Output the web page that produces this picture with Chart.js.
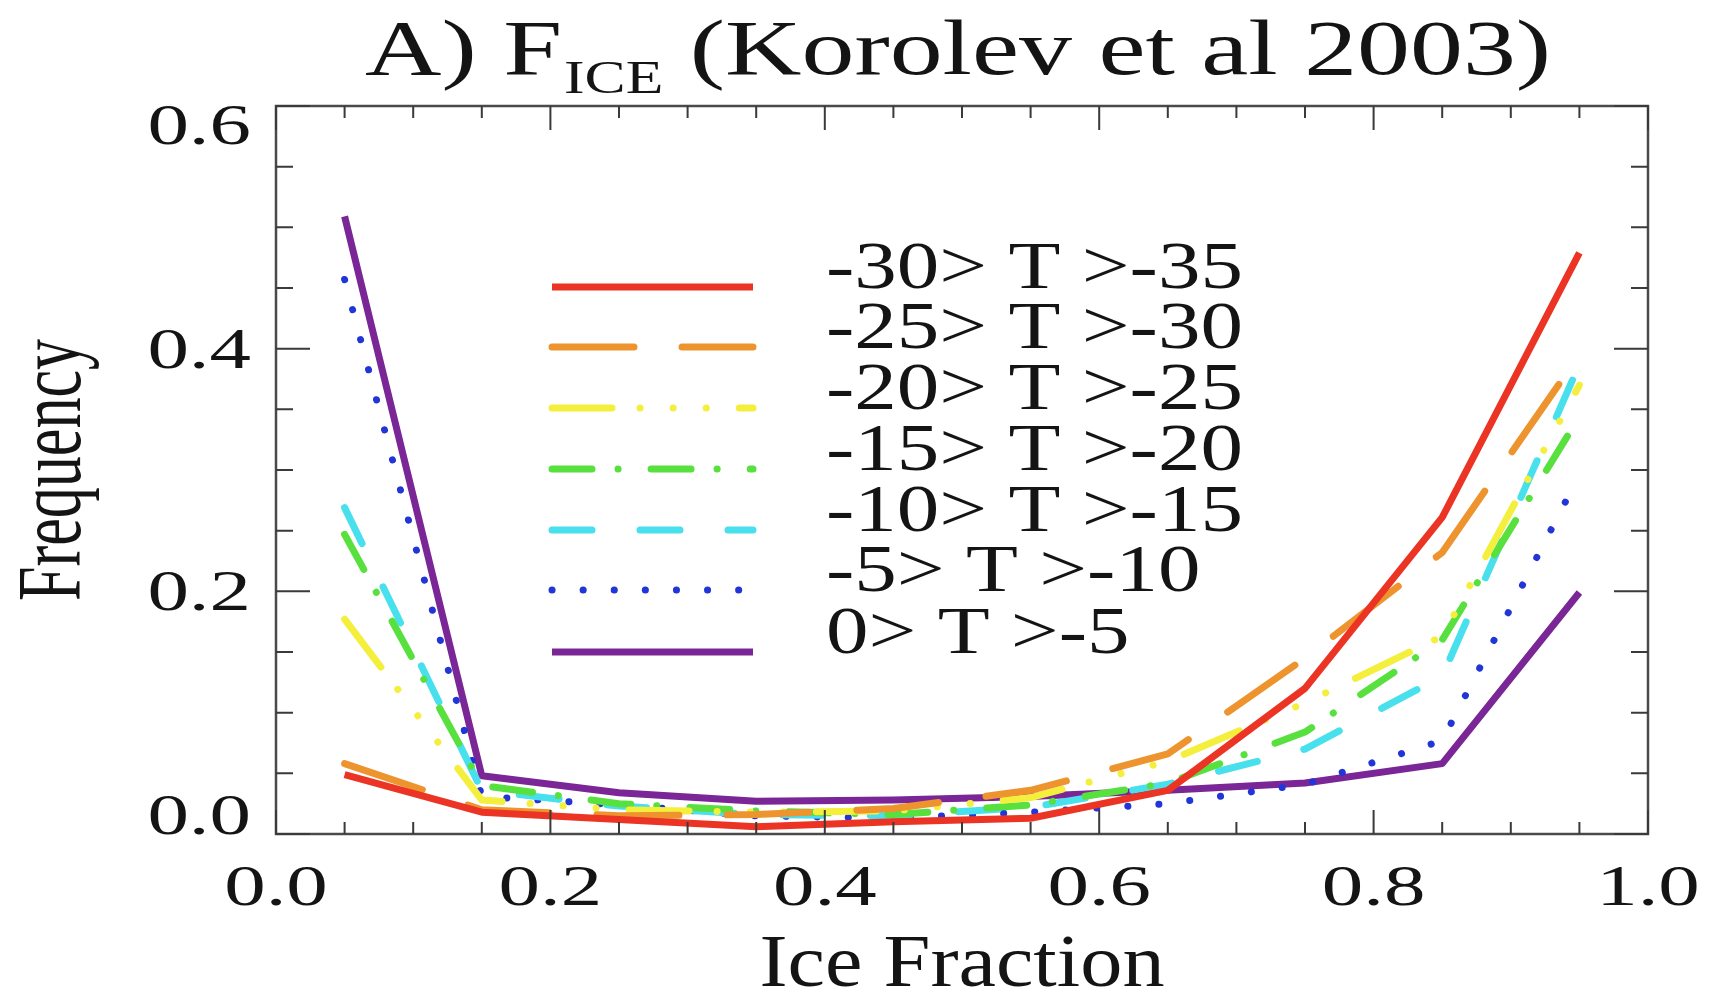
<!DOCTYPE html>
<html>
<head>
<meta charset="utf-8">
<title>F_ICE (Korolev et al 2003)</title>
<script src="https://cdn.jsdelivr.net/npm/chart.js@4/dist/chart.umd.min.js"></script>
<style>
  html, body { margin: 0; padding: 0; background: #ffffff; }
  #wrap { width: 1711px; height: 992px; }
</style>
</head>
<body>
<div id="wrap"><canvas id="fice" width="1711" height="992"></canvas></div>
<script>
// Bin centres of the ice fraction histogram
const iceFraction = [0.05, 0.15, 0.25, 0.35, 0.45, 0.55, 0.65, 0.75, 0.85, 0.95];

// Temperature bands (legend text)
const bandLabels = ['-30> T >-35', '-25> T >-30', '-20> T >-25', '-15> T >-20', '-10> T >-15', '-5> T >-10', '0> T >-5'];

// Frequency of each ice-fraction bin, one array per temperature band
const freqT30to35 = [0.049, 0.018, 0.012, 0.006, 0.010, 0.013, 0.036, 0.120, 0.261, 0.479];
const freqT25to30 = [0.058, 0.020, 0.015, 0.016, 0.021, 0.036, 0.066, 0.145, 0.232, 0.395];
const freqT20to25 = [0.177, 0.028, 0.020, 0.018, 0.019, 0.030, 0.060, 0.108, 0.163, 0.370];
const freqT15to20 = [0.247, 0.040, 0.025, 0.019, 0.016, 0.024, 0.042, 0.084, 0.160, 0.344];
const freqT10to15 = [0.269, 0.036, 0.023, 0.016, 0.015, 0.022, 0.041, 0.070, 0.130, 0.387];
const freqT5to10  = [0.457, 0.031, 0.024, 0.015, 0.013, 0.018, 0.025, 0.041, 0.077, 0.296];
const freqT0to5   = [0.509, 0.048, 0.034, 0.027, 0.028, 0.031, 0.036, 0.042, 0.058, 0.199];

// Axis tick labels
const xTickLabels = ['0.0', '0.2', '0.4', '0.6', '0.8', '1.0'];
const yTickLabels = ['0.0', '0.2', '0.4', '0.6'];

const seriesValues = [freqT30to35, freqT25to30, freqT20to25, freqT15to20, freqT10to15, freqT5to10, freqT0to5];
const seriesColors = ['#ec3424', '#ee942e', '#f4ee3c', '#58e03e', '#48e0ec', '#2236d8', '#7a2696'];
const seriesDash = [
  [],
  [82, 48],
  [60, 28, 0.1, 33, 0.1, 33, 0.1, 33],
  [40, 26, 0.1, 33],
  [40, 48],
  [0.1, 31],
  []
];

const SERIF = '"Liberation Serif", "Times New Roman", serif';

function stretchedText(ctx, text, x, y, size, sx, align, baseline) {
  ctx.save();
  ctx.font = size + 'px ' + SERIF;
  ctx.textAlign = align || 'left';
  ctx.textBaseline = baseline || 'alphabetic';
  ctx.translate(x, y);
  ctx.scale(sx, 1);
  ctx.fillText(text, 0, 0);
  ctx.restore();
}

function isMajor(v) {
  const r = v / 0.2;
  return Math.abs(r - Math.round(r)) < 1e-6;
}

// Frame, inward ticks on all four sides, tick labels, axis titles, title and legend
const decorations = {
  id: 'decorations',
  afterDraw(chart) {
    const ctx = chart.ctx;
    const area = chart.chartArea;
    const xs = chart.scales.x;
    const ys = chart.scales.y;
    ctx.save();
    ctx.fillStyle = '#141414';

    // frame
    ctx.strokeStyle = '#4a4a4a';
    ctx.lineWidth = 2.5;
    ctx.strokeRect(area.left, area.top, area.right - area.left, area.bottom - area.top);

    // inward ticks
    ctx.strokeStyle = '#3a3a3a';
    ctx.lineWidth = 2;
    ctx.beginPath();
    xs.ticks.forEach(t => {
      const px = xs.getPixelForValue(t.value);
      const len = isMajor(t.value) ? 24 : 12;
      ctx.moveTo(px, area.bottom); ctx.lineTo(px, area.bottom - len);
      ctx.moveTo(px, area.top); ctx.lineTo(px, area.top + len);
    });
    ys.ticks.forEach(t => {
      const py = ys.getPixelForValue(t.value);
      const len = isMajor(t.value) ? 34 : 17;
      ctx.moveTo(area.left, py); ctx.lineTo(area.left + len, py);
      ctx.moveTo(area.right, py); ctx.lineTo(area.right - len, py);
    });
    ctx.stroke();

    // x tick labels
    xTickLabels.forEach(lbl => {
      const px = xs.getPixelForValue(parseFloat(lbl));
      stretchedText(ctx, lbl, px, 905, 56, 1.48, 'center');
    });
    // y tick labels (kept inside the frame's vertical span)
    const half = 19;
    yTickLabels.forEach(lbl => {
      let py = ys.getPixelForValue(parseFloat(lbl));
      py = Math.min(Math.max(py, area.top + half), area.bottom - half);
      stretchedText(ctx, lbl, 251, py + half, 56, 1.48, 'right');
    });

    // axis titles
    stretchedText(ctx, 'Ice Fraction', (area.left + area.right) / 2, 986, 74, 1.14, 'center');
    ctx.save();
    ctx.translate(80, (area.top + area.bottom) / 2);
    ctx.rotate(-Math.PI / 2);
    stretchedText(ctx, 'Frequency', 0, 0, 90, 0.69, 'center');
    ctx.restore();

    // title with subscript
    const sx = 1.34;
    let tx = 365;
    const base = 74;
    ctx.font = '79px ' + SERIF;
    const w1 = ctx.measureText('A) F').width * sx;
    stretchedText(ctx, 'A) F', tx, base, 79, sx);
    tx += w1 + 2;
    ctx.font = '46px ' + SERIF;
    const w2 = ctx.measureText('ICE').width * sx;
    stretchedText(ctx, 'ICE', tx, base + 19, 46, sx);
    tx += w2;
    stretchedText(ctx, ' (Korolev et al 2003)', tx, base, 79, sx);

    // legend
    const rowY = [287, 347, 408, 469, 530, 590, 652];
    chart.data.datasets.forEach((ds, i) => {
      const y = rowY[i];
      ctx.save();
      ctx.strokeStyle = ds.borderColor;
      ctx.lineWidth = ds.borderWidth;
      ctx.lineCap = ds.borderCapStyle;
      ctx.setLineDash(ds.borderDash);
      ctx.beginPath();
      ctx.moveTo(552, y);
      ctx.lineTo(753, y);
      ctx.stroke();
      ctx.restore();
      stretchedText(ctx, ds.label, 826, y + 1, 68, 1.25, 'left');
    });
    ctx.restore();
  }
};

const datasets = seriesValues.map((vals, i) => ({
  label: bandLabels[i],
  data: vals.map((v, j) => ({ x: iceFraction[j], y: v })),
  borderColor: seriesColors[i],
  backgroundColor: seriesColors[i],
  borderWidth: 7,
  borderDash: seriesDash[i],
  borderCapStyle: seriesDash[i].length ? 'round' : 'butt',
  borderJoinStyle: 'round',
  pointRadius: 0,
  fill: false,
  tension: 0
}));

new Chart(document.getElementById('fice'), {
  type: 'line',
  data: { datasets },
  options: {
    responsive: false,
    animation: false,
    devicePixelRatio: 1,
    layout: { padding: { top: 106, right: 63, left: 0, bottom: 0 } },
    plugins: { legend: { display: false }, title: { display: false }, tooltip: { enabled: false } },
    scales: {
      x: {
        type: 'linear', min: 0, max: 1,
        ticks: { display: false, stepSize: 0.05 },
        grid: { display: false },
        border: { display: false },
        afterFit(scale) { scale.height = 158; }
      },
      y: {
        type: 'linear', min: 0, max: 0.6,
        ticks: { display: false, stepSize: 0.05 },
        grid: { display: false },
        border: { display: false },
        afterFit(scale) { scale.width = 276; }
      }
    }
  },
  plugins: [decorations]
});
</script>
</body>
</html>
